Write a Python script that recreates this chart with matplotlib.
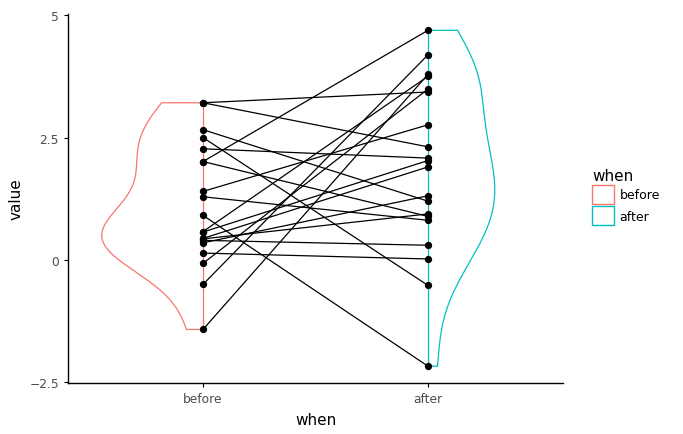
import numpy as np
import matplotlib
matplotlib.use("Agg")
import matplotlib.pyplot as plt
from matplotlib.patches import Patch

groups = ["before", "after"]
before = [3.21, 3.21, 2.66, 2.50, 2.27, 2.01, 2.01, 1.40, 1.29, 0.91,
          0.58, 0.57, 0.44, 0.40, 0.35, 0.43, 0.14, -0.07, -0.50, -1.42]
after = [3.43, 2.31, 1.20, -0.52, 2.08, 4.69, 0.89, 2.76, 0.81, -2.17,
         3.75, 2.03, 1.90, 0.30, 1.31, 0.94, 0.02, 3.49, 4.19, 3.79]
colors = {"before": "#F8766D", "after": "#00BFC4"}
yticks = [-2.5, 0, 2.5, 5]
yticklabels = ["\u22122.5", "0", "2.5", "5"]


def kde(vals, grid):
    v = np.asarray(vals)
    n = len(v)
    sd = v.std(ddof=1)
    iqr = np.subtract(*np.percentile(v, [75, 25]))
    bw = 0.9 * min(sd, iqr / 1.34) * n ** -0.2
    d = np.exp(-0.5 * ((grid[:, None] - v[None, :]) / bw) ** 2).sum(1)
    return d / (n * bw * np.sqrt(2 * np.pi))


fig = plt.figure(figsize=(6.83, 4.35), dpi=100)
ax = fig.add_axes([68 / 683, 1 - 384 / 435, 495 / 683, (384 - 14.5) / 435])

series = {"before": before, "after": after}
dens = {}
grids = {}
for g in groups:
    v = np.asarray(series[g])
    grid = np.linspace(v.min(), v.max(), 512)
    grids[g] = grid
    dens[g] = kde(v, grid)
mx = max(d.max() for d in dens.values())
for i, g in enumerate(groups):
    x0 = i + 1
    w = dens[g] / mx * 0.45
    sign = -1 if g == "before" else 1
    xs = np.concatenate([[x0], x0 + sign * w, [x0]])
    ys = np.concatenate([[grids[g][0]], grids[g], [grids[g][-1]]])
    ax.plot(xs, ys, color=colors[g], lw=0.9, zorder=1)
    ax.plot([x0, x0], [grids[g][0], grids[g][-1]], color=colors[g], lw=0.9, zorder=1)

for b, a in zip(before, after):
    ax.plot([1, 2], [b, a], color="black", lw=0.9, zorder=2)
ax.scatter([1] * len(before), before, s=18, color="black", zorder=3)
ax.scatter([2] * len(after), after, s=18, color="black", zorder=3)

ax.set_xlim(0.4, 2.6)
ax.set_ylim(-2.513, 5.033)
ax.set_xticks([1, 2])
ax.set_xticklabels(groups)
ax.set_yticks(yticks)
ax.set_yticklabels(yticklabels)
for s in ["top", "right"]:
    ax.spines[s].set_visible(False)
for s in ["left", "bottom"]:
    ax.spines[s].set_linewidth(1.0)
ax.tick_params(axis="both", labelsize=8.8, colors="#4D4D4D", length=3)
ax.tick_params(axis="both", color="black")
ax.set_xlabel("when", fontsize=11, labelpad=5)
ax.set_ylabel("value", fontsize=11)

handles = [Patch(facecolor="white", edgecolor=colors[g], label=g) for g in groups]
leg = fig.legend(handles=handles, title="when", loc="upper left",
                 bbox_to_anchor=(587 / 683, 1 - 164 / 435), frameon=False,
                 fontsize=9, title_fontsize=11, handlelength=1.75, handleheight=2.0,
                 handletextpad=0.45, labelspacing=0.15, borderaxespad=0)
leg._legend_box.align = "left"

fig.savefig("out.png", dpi=100)
